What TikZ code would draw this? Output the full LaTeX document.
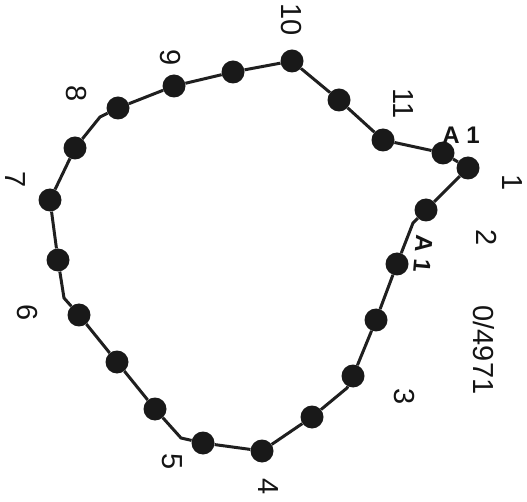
\documentclass[tikz,border=0pt]{standalone}
\usepackage{fontspec}
\setmainfont{Liberation Sans}
\usetikzlibrary{positioning}
\tikzset{
  dot/.style={circle,fill=black!90,inner sep=0pt,minimum size=23pt},
  edge/.style={line width=3pt,draw=black!88},
  num/.style={rotate=-90,font=\fontsize{29}{30}\selectfont,text=black!92},
  tag/.style={font=\fontsize{24}{26}\selectfont\bfseries,text=black!92},
}
\begin{document}
\begin{tikzpicture}[x=1pt,y=-1pt]
  \useasboundingbox (0,0) rectangle (527,502);
  % stations round the loop
  \node[dot] (n1) at (468,168) {};
  \node[dot] (n2) at (443,153) {};
  \node[dot] (n3) at (383,140) {};
  \node[dot] (n4) at (339,100) {};
  \node[dot] (n5) at (292,61) {};
  \node[dot] (n6) at (233,72) {};
  \node[dot] (n7) at (174,86) {};
  \node[dot] (n8) at (118,108) {};
  \coordinate (k1) at (100,117);
  \node[dot] (n9) at (75,148) {};
  \node[dot] (n10) at (50,200) {};
  \node[dot] (n11) at (58,260) {};
  \coordinate (k2) at (64,298);
  \node[dot] (n12) at (79,315) {};
  \node[dot] (n13) at (117,362) {};
  \node[dot] (n14) at (155,409) {};
  \coordinate (k3) at (181,438);
  \node[dot] (n15) at (203,443) {};
  \node[dot] (n16) at (262,451) {};
  \node[dot] (n17) at (312,417) {};
  \coordinate (k4) at (347,388);
  \node[dot] (n18) at (353,376) {};
  \node[dot] (n19) at (376,320) {};
  \node[dot] (n20) at (397,264) {};
  \coordinate (k5) at (413,223);
  \node[dot] (n21) at (426,210) {};
  \draw[edge] (n1) -- (n2) -- (n3) -- (n4) -- (n5) -- (n6) -- (n7) -- (n8)
    -- (k1) -- (n9) -- (n10) -- (n11) -- (k2) -- (n12) -- (n13) -- (n14)
    -- (k3) -- (n15) -- (n16) -- (n17) -- (k4) -- (n18) -- (n19) -- (n20)
    -- (k5) -- (n21) -- (n1);
  % numbers
  \node[num] (l1) at (512,183) {1};
  \node[num] (l2) at (487,238) {2};
  \node[num] (l3) at (404,397) {3};
  \node[num] (l4) at (268,487) {4};
  \node[num] (l5) at (172,462) {5};
  \node[num] (l6) at (27,313) {6};
  \node[num] (l7) at (15,180) {7};
  \node[num] (l8) at (76,94) {8};
  \node[num] (l9) at (170,58) {9};
  \node[num] (l10) at (291,20) {10};
  \node[num] (l11) at (403,104) {11};
  \node[num] (ref) at (484,350) {0/4971};
  \node[tag] (a1) at (461,135) {A 1};
  \node[tag,rotate=-95] (a2) at (423,254) {A 1};
\end{tikzpicture}
\end{document}
